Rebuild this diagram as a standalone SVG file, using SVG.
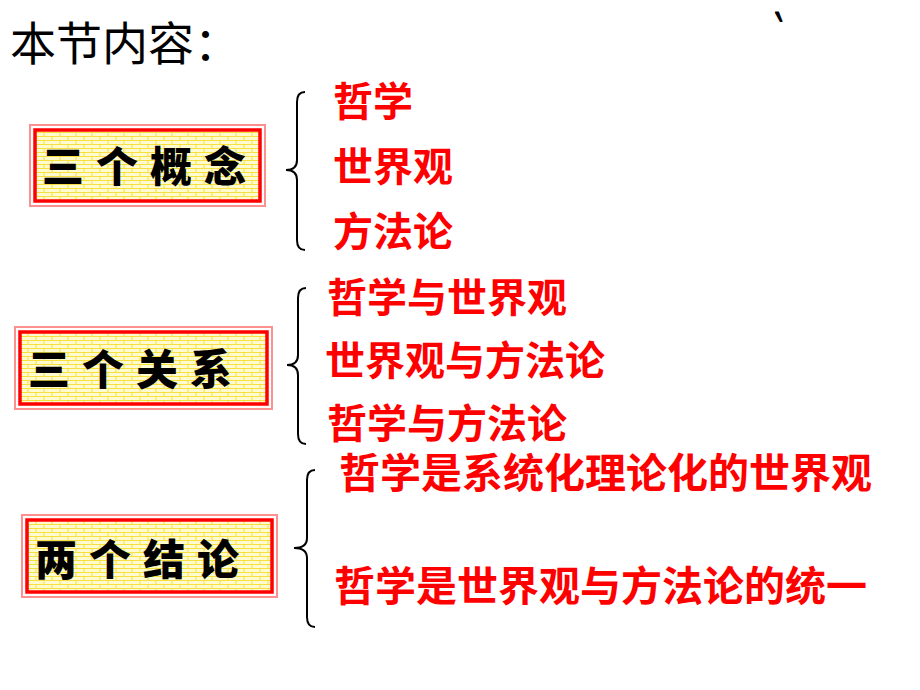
<svg xmlns="http://www.w3.org/2000/svg" width="920" height="690" viewBox="0 0 920 690">
<defs>
<pattern id="brick" width="16" height="8" patternUnits="userSpaceOnUse">
<rect width="16" height="8" fill="#fffbd0"/>
<path d="M0,0.5H16M0,4.5H16M4,0V4M12,4V8" stroke="#f5e040" stroke-width="1" fill="none"/>
</pattern>
<style>
.outer{fill:none;stroke:#ff9090;stroke-width:2}
.inner{fill:url(#brick);stroke:#ff0000;stroke-width:3.5}
.box{font-family:"Noto Sans CJK SC",sans-serif;font-weight:900;font-size:42px;fill:#000;letter-spacing:12px;dominant-baseline:central}
.red{font-family:"Noto Sans CJK SC",sans-serif;font-weight:700;font-size:40px;fill:#ff0000;dominant-baseline:central}
.big{font-size:41px}
.brace{fill:none;stroke:#000;stroke-width:2}
</style>
</defs>
<rect width="920" height="690" fill="#fff"/>
<text x="10" y="40" font-family="Noto Sans CJK SC,sans-serif" font-size="46" fill="#000" dominant-baseline="central">本节内容：</text>
<text transform="translate(774,61) scale(1,2.2)" font-family="Liberation Sans,sans-serif" font-weight="bold" font-size="30" fill="#000">`</text>

<g id="node-concepts">
<rect class="outer" x="30" y="125" width="235" height="81"/>
<rect class="inner" x="35" y="130" width="225" height="71"/>
<text class="box" x="42" y="163">三个概念</text>
</g>
<g id="node-relations">
<rect class="outer" x="15" y="327" width="257" height="82"/>
<rect class="inner" x="20" y="332" width="247" height="72"/>
<text class="box" x="28" y="366">三个关系</text>
</g>
<g id="node-conclusions">
<rect class="outer" x="22" y="515" width="255" height="82"/>
<rect class="inner" x="27" y="520" width="245" height="72"/>
<text class="box" x="35" y="556">两个结论</text>
</g>

<g id="connectors">
<path class="brace" d="M305,92 Q297,92 297,102 L297,160 Q297,170 286,170 Q297,170 297,180 L297,240 Q297,250 305,250"/>
<path class="brace" d="M306,288 Q298,288 298,298 L298,355 Q298,365 287,365 Q298,365 298,375 L298,434 Q298,444 306,444"/>
<path class="brace" d="M315,470 Q307,470 307,480 L307,538 Q307,548 294,548 Q307,548 307,558 L307,617 Q307,627 315,627"/>
</g>

<g id="items-concepts">
<text class="red" x="333" y="99">哲学</text>
<text class="red" x="333" y="164">世界观</text>
<text class="red" x="333" y="229">方法论</text>
</g>
<g id="items-relations">
<text class="red" x="327" y="295">哲学与世界观</text>
<text class="red" x="325" y="358">世界观与方法论</text>
<text class="red" x="327" y="421">哲学与方法论</text>
</g>
<g id="items-conclusions">
<text class="red big" x="339" y="470">哲学是系统化理论化的世界观</text>
<text class="red big" x="334" y="583">哲学是世界观与方法论的统一</text>
</g>
</svg>
